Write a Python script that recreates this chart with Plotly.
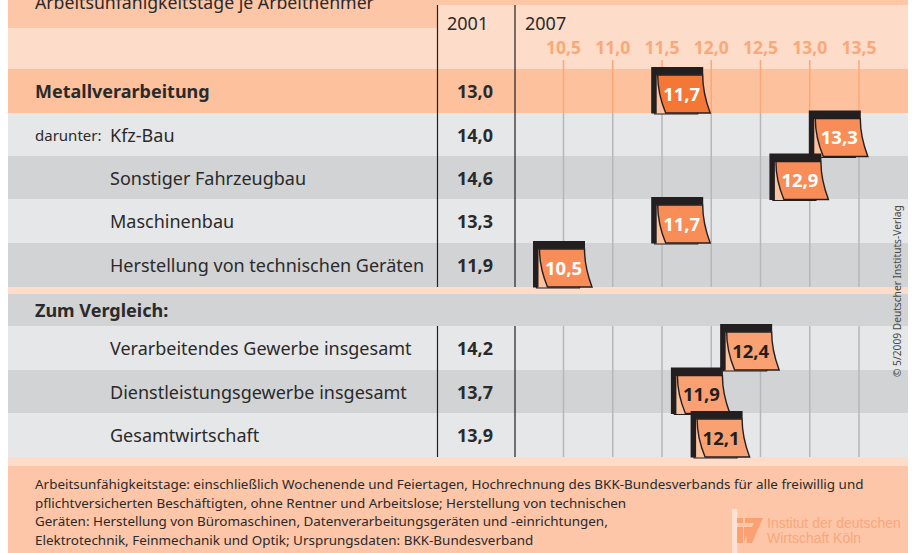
import plotly.graph_objects as go

# ---- data ----
row_labels = ["Metallverarbeitung", "Kfz-Bau", "Sonstiger Fahrzeugbau", "Maschinenbau",
              "Herstellung von technischen Geräten",
              "Verarbeitendes Gewerbe insgesamt", "Dienstleistungsgewerbe insgesamt", "Gesamtwirtschaft"]
values_2001 = [13.0, 14.0, 14.6, 13.3, 11.9, 14.2, 13.7, 13.9]
values_2007 = [11.7, 13.3, 12.9, 11.7, 10.5, 12.4, 11.9, 12.1]
tick_values = [10.5, 11.0, 11.5, 12.0, 12.5, 13.0, 13.5]
footnote_lines = [
    "Arbeitsunfähigkeitstage: einschließlich Wochenende und Feiertagen, Hochrechnung des BKK-Bundesverbands für alle freiwillig und",
    "pflichtversicherten Beschäftigten, ohne Rentner und Arbeitslose; Herstellung von technischen",
    "Geräten: Herstellung von Büromaschinen, Datenverarbeitungsgeräten und -einrichtungen,",
    "Elektrotechnik, Feinmechanik und Optik; Ursprungsdaten: BKK-Bundesverband",
]

# ---- layout constants (pixels of the 912x553 page) ----
W, H = 912, 553
FONT = "Noto Sans"
INK = "#231F20"
TEXT = "#2B2A2B"
PEACH_D, PEACH_L, ROW_O = "#FDC6A6", "#FDDCC9", "#FDC19D"
GREY_L, GREY_D = "#E6E7E8", "#D1D3D4"
TICK_C = "#FBA878"
row_y = [91, 134.5, 177.5, 221, 265, 348, 391.5, 435]
row_styles = [
    (69, 113, ROW_O), (113, 156, GREY_L), (156, 199, GREY_D), (199, 243, GREY_L), (243, 287, GREY_D),
    (326, 370, GREY_L), (370, 413, GREY_D), (413, 457, GREY_L),
]
px_per_unit = 98.5
x_low = 10.5 - 563.5 / px_per_unit
x_high = 10.5 + (W - 563.5) / px_per_unit
label_x = [35] + [110] * 7
fills = ["#F47735", "#F98D57", "#F98D57", "#F98D57", "#F98D57", "#FAA173", "#FAA173", "#FAA173"]
vtext = ["white"] * 5 + [INK] * 3


def px(x):
    return x / W


def py(y):
    return 1 - y / H


shapes = []
annots = []


def rect(x0, y0, x1, y1, color):
    shapes.append(dict(type="rect", xref="paper", yref="paper", x0=px(x0), x1=px(x1), y0=py(y0), y1=py(y1),
                       fillcolor=color, line_width=0, layer="below"))


def text(x, y, s, size=17, color=TEXT, bold=False, anchor="left", family=FONT, angle=0):
    nudge = {"left": -2, "right": 1, "center": 0}[anchor]
    annots.append(dict(xref="paper", yref="paper", x=px(x + nudge), y=py(y), text=f"<b>{s}</b>" if bold else s,
                       showarrow=False, xanchor=anchor, yanchor="middle", textangle=angle,
                       font=dict(family=family, size=size, color=color)))


# page bands
rect(8, 0, 437, 28, PEACH_D)
rect(437, 0, 908, 5, PEACH_D)
rect(8, 28, 437, 69, PEACH_L)
rect(437, 5, 908, 69, PEACH_L)
for y0, y1, c in row_styles:
    rect(8, y0, 908, y1, c)
rect(8, 287, 908, 294, PEACH_L)
rect(8, 294, 908, 326, GREY_D)
rect(8, 457, 908, 466, PEACH_L)
rect(8, 466, 908, 553, "#FDC6A8")

# column rules
for x in (437.5, 515):
    for y0, y1 in ((5, 287), (326, 457)):
        shapes.append(dict(type="line", xref="paper", yref="paper", x0=px(x), x1=px(x), y0=py(y0), y1=py(y1),
                           line=dict(color=INK, width=1.2), layer="below"))

# gridlines in data coordinates
for t in tick_values:
    for y0, y1, c in ((60, 113, "#FBA878"), (113, 287, "#B5B7BA"), (326, 457, "#B5B7BA")):
        shapes.append(dict(type="line", xref="x", yref="y", x0=t, x1=t, y0=y0, y1=y1,
                           line=dict(color=c, width=1.5), layer="below"))

# calendars, anchored on their value and sized in pixels (path y points up)
for v, cy, fill in zip(values_2007, row_y, fills):
    common = dict(type="path", xref="x", yref="y", xsizemode="pixel", ysizemode="pixel", xanchor=v, yanchor=cy,
                  layer="below")
    shapes.append(dict(common, path="M-27,-23 L16,-23 L16,16 L-27,16 Z", fillcolor="#FBC39F",
                       line=dict(color=INK, width=1.2)))
    shapes.append(dict(common, path="M-24,16 C-24,4 -21,-10 -16,-22 L28.5,-22 C24,-10 21,4 21,16 Z",
                       fillcolor=fill, line=dict(color=INK, width=1.4)))
    shapes.append(dict(common, path="M-30.5,24 L21.5,24 L21.5,16.3 L-25,16.3 L-25,-22.5 L-30.5,-22.5 Z",
                       fillcolor=INK, line_width=0))

# text
text(35, 2, "Arbeitsunfähigkeitstage je Arbeitnehmer", size=17.7)
text(447, 23, "2001", size=18)
text(525, 23, "2007", size=18)
text(35, 294 + 16, "Zum Vergleich:", size=18, bold=True)
text(35, row_y[1], "darunter:", size=15)
for i, (lab, x, y, v) in enumerate(zip(row_labels, label_x, row_y, values_2001)):
    text(x, y, lab, size=18, bold=(i == 0))
    text(494, y, f"{v:.1f}".replace(".", ","), size=18, bold=True, anchor="right")
for y, line in zip((484, 503, 521, 540), footnote_lines):
    text(35, y, line, size=13.45)
text(897, 291, "© 5/2009 Deutscher Instituts-Verlag", size=10.2, angle=-90, anchor="center", color="#4A4A4C")

# IW logo
rect(732, 509, 737.3, 553, "#FEE3D3")
logo = dict(type="path", xref="paper", yref="paper", line_width=0, layer="below", fillcolor="#FAA173")


def logo_path(pts):
    return "M" + " L".join(f"{px(a):.5f},{py(b):.5f}" for a, b in pts) + " Z"


for pts in (
    [(737, 518), (743, 518), (743, 523), (737, 523)],
    [(737, 527), (743, 527), (743, 543), (737, 543)],
    [(745, 518), (763, 518), (752, 543), (747, 543), (746, 535), (744, 543), (744, 527), (752, 527), (754, 523), (745, 523)],
):
    shapes.append(dict(logo, path=logo_path(pts)))
text(767, 523, "Institut der deutschen", size=14, color="#F9A77C", family="Liberation Sans")
text(767, 538, "Wirtschaft Köln", size=14, color="#F9A77C", family="Liberation Sans")

fig = go.Figure(go.Scatter(
    x=values_2007, y=[y + 5 for y in row_y], mode="text",
    text=[f"<b>{v:.1f}</b>".replace(".", ",") for v in values_2007],
    textposition="middle center",
    textfont=dict(family=FONT, size=18.5, color=vtext),
    hoverinfo="skip", showlegend=False,
))
fig.update_layout(
    width=W, height=H, paper_bgcolor="white", plot_bgcolor="rgba(0,0,0,0)",
    margin=dict(l=0, r=0, t=0, b=0, pad=0), showlegend=False,
    shapes=shapes, annotations=annots,
    xaxis=dict(range=[x_low, x_high], side="top", anchor="free", position=py(57), tickvals=tick_values,
               ticktext=["<b>" + f"{t:.1f}".replace(".", ",") + "</b>" for t in tick_values],
               showgrid=False, zeroline=False, showline=False, ticks="",
               tickfont=dict(family=FONT, size=17.5, color=TICK_C)),
    yaxis=dict(range=[H, 0], visible=False),
)
fig.write_html("out.html", config=dict(displayModeBar=False),
               post_script="document.body.style.margin='0';document.body.style.overflow='hidden';")
